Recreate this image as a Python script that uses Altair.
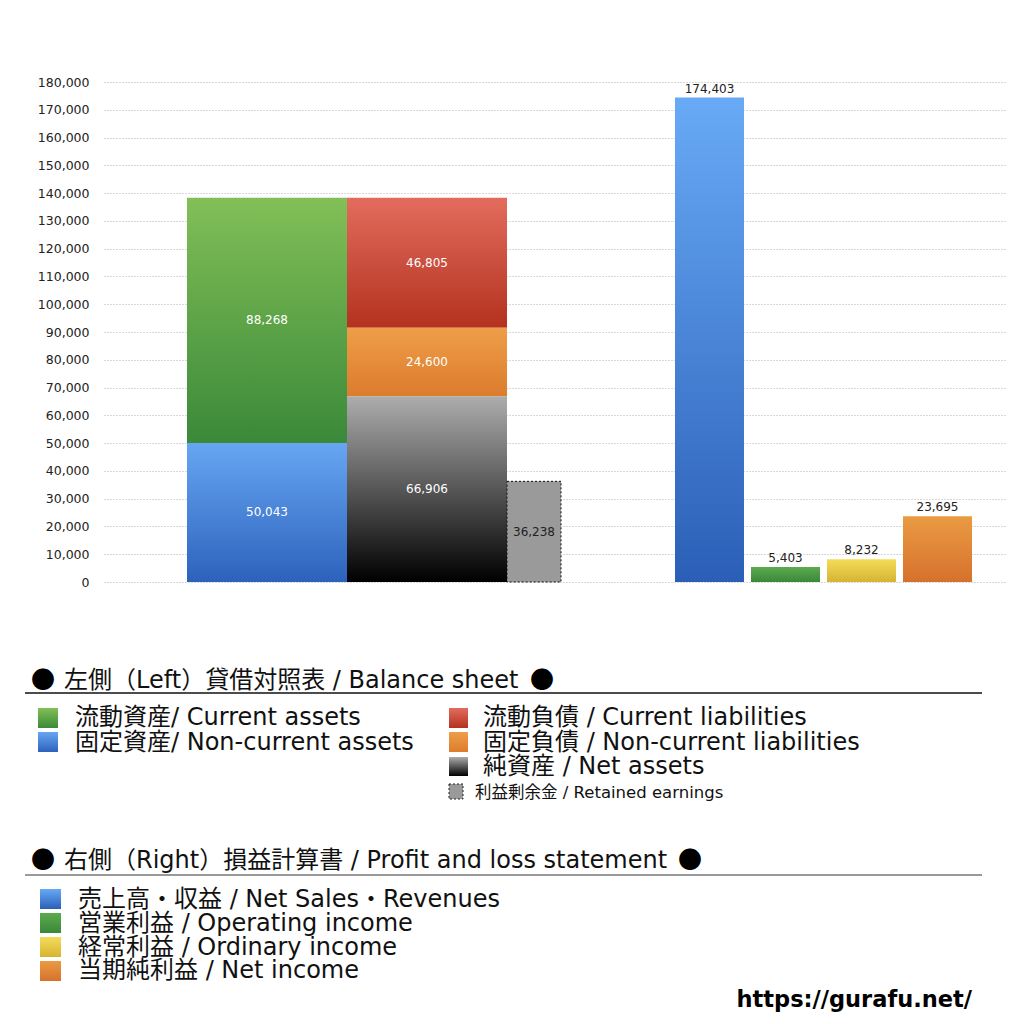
import altair as alt
import pandas as pd

# ---------------- data ----------------
bs_items = ["流動資産", "固定資産", "流動負債", "固定負債", "純資産", "利益剰余金"]
bs_values = [88268, 50043, 46805, 24600, 66906, 36238]
pl_items = ["売上高・収益", "営業利益", "経常利益", "当期純利益"]
pl_values = [174403, 5403, 8232, 23695]
y_ticks = list(range(0, 180001, 10000))

# ---------------- layout (x units of the hidden x scale) ----------------
W, H = 902, 500
FONT = "DejaVu Sans, Noto Sans CJK JP"
CJK = "Noto Sans CJK JP"
# column of each item, stacking bottom -> top
column_members = {
    "assets": ["固定資産", "流動資産"],
    "claims": ["純資産", "固定負債", "流動負債"],
    "retained": ["利益剰余金"],
    "pl0": ["売上高・収益"],
    "pl1": ["営業利益"],
    "pl2": ["経常利益"],
    "pl3": ["当期純利益"],
}
column_span = {
    "assets": (83, 243), "claims": (243, 403), "retained": (403, 457),
    "pl0": (571, 640), "pl1": (647, 716), "pl2": (723, 792), "pl3": (799, 868),
}

values = dict(zip(bs_items + pl_items, bs_values + pl_values))
rows = []
for col, members in column_members.items():
    base = 0
    for it in members:
        v = values[it]
        x0, x1 = column_span[col]
        rows.append(dict(item=it, value=v, y0=base, y1=base + v, ym=base + v / 2,
                         x0=x0, x1=x1, xm=(x0 + x1) / 2,
                         kind=("pl" if it in pl_items else ("ret" if it == "利益剰余金" else "bs"))))
        base += v
df = pd.DataFrame(rows)
one = pd.DataFrame({"k": [0]})


def grad(top, bottom):
    return alt.LinearGradient(
        gradient="linear", x1=0, y1=0, x2=0, y2=1,
        stops=[alt.GradientStop(color=top, offset=0), alt.GradientStop(color=bottom, offset=1)])


colors = {
    "流動資産": ("#82bf57", "#3a8939"),
    "固定資産": ("#67a6f3", "#2d62bc"),
    "流動負債": ("#e36c5e", "#b3321e"),
    "固定負債": ("#ee9e48", "#dc7c2e"),
    "純資産": ("#adadad", "#000000"),
    "売上高・収益": ("#68aaf6", "#2b5fb7"),
    "営業利益": ("#5dab4e", "#3a883a"),
    "経常利益": ("#f3dc5a", "#d6b432"),
    "当期純利益": ("#ea9b43", "#d6712d"),
}

xs = alt.Scale(domain=[0, W], nice=False, zero=False)
ys = alt.Scale(domain=[0, 180000], nice=False)
yaxis = alt.Axis(values=y_ticks, format=",d", title=None, ticks=False, domain=False,
                 labelFont=FONT, labelFontSize=12.5, labelColor="#222", labelPadding=15,
                 grid=True, gridDash=[1, 2], gridColor="#b0b0b0", gridWidth=1)


def enc_bar(ch):
    return ch.encode(x=alt.X("x0:Q", scale=xs, axis=None), x2="x1",
                     y=alt.Y("y0:Q", scale=ys, axis=yaxis), y2="y1")


layers = []
for it, (top, bot) in colors.items():
    layers.append(enc_bar(alt.Chart(df).transform_filter(alt.datum.item == it)
                          .mark_bar(color=grad(top, bot))))
layers.append(enc_bar(alt.Chart(df).transform_filter(alt.datum.item == "利益剰余金")
                      .mark_bar(fill="#9a9a9a", stroke="#111", strokeDash=[2, 2], strokeWidth=1)))

# value labels
layers.append(alt.Chart(df).transform_filter(alt.datum.kind == "bs").mark_text(
    font=FONT, fontSize=12, color="white", baseline="middle").encode(
    x=alt.X("xm:Q", scale=xs, axis=None), y=alt.Y("ym:Q", scale=ys, axis=yaxis),
    text=alt.Text("value:Q", format=",d")))
layers.append(alt.Chart(df).transform_filter(alt.datum.kind == "ret").mark_text(
    font=FONT, fontSize=12, color="#222", baseline="middle").encode(
    x=alt.X("xm:Q", scale=xs, axis=None), y=alt.Y("ym:Q", scale=ys, axis=yaxis),
    text=alt.Text("value:Q", format=",d")))
layers.append(alt.Chart(df).transform_filter(alt.datum.kind == "pl").mark_text(
    font=FONT, fontSize=12, color="#222", baseline="bottom", dy=-2).encode(
    x=alt.X("xm:Q", scale=xs, axis=None), y=alt.Y("y1:Q", scale=ys, axis=yaxis),
    text=alt.Text("value:Q", format=",d")))


# ---------------- legend block (drawn below the plot) ----------------
def txt(lines, x, y, size, weight="normal", align="left", color="#111", font=FONT):
    return alt.Chart(one).mark_text(
        text=lines, align=align, baseline="alphabetic", fontSize=size, font=font,
        fontWeight=weight, color=color).encode(x=alt.value(x), y=alt.value(y))


def square(x0, x1, y0, y1, **mk):
    return alt.Chart(one).mark_rect(**mk).encode(
        x=alt.value(x0), x2=alt.value(x1), y=alt.value(y0), y2=alt.value(y1))


def hline(x0, x1, y, color):
    return alt.Chart(one).mark_rule(color=color, strokeWidth=1.5).encode(
        x=alt.value(x0), x2=alt.value(x1), y=alt.value(y))


layers += [
    txt("●", -73, 606, 24, font=CJK, color="#000"),
    txt("左側（Left）貸借対照表 / Balance sheet", -40, 606, 24),
    txt("●", 426, 606, 24, font=CJK, color="#000"),
    hline(-79, 878, 611, "#111"),
    square(-66, -46, 626, 646, color=grad(*colors["流動資産"])),
    square(-66, -46, 650, 670, color=grad(*colors["固定資産"])),
    txt("流動資産/ Current assets", -29, 643, 24),
    txt("固定資産/ Non-current assets", -29, 668, 24),
    square(345, 364, 626, 646, color=grad(*colors["流動負債"])),
    square(345, 364, 650, 670, color=grad(*colors["固定負債"])),
    square(345, 364, 675, 694, color=grad(*colors["純資産"])),
    txt("流動負債 /  Current liabilities", 379, 643, 24),
    txt("固定負債 / Non-current liabilities", 379, 668, 24),
    txt("純資産 / Net assets", 379, 692, 24),
    square(345, 359, 702, 717, fill="#9a9a9a", stroke="#222", strokeDash=[2, 2], strokeWidth=1),
    txt("利益剰余金 / Retained earnings", 371, 716, 16.5),
    txt("●", -73, 786, 24, font=CJK, color="#000"),
    txt("右側（Right）損益計算書 / Profit and loss statement", -40, 786, 24),
    txt("●", 574, 786, 24, font=CJK, color="#000"),
    hline(-79, 878, 793, "#777"),
    square(-64, -43, 807, 827, color=grad(*colors["売上高・収益"])),
    square(-64, -43, 831, 851, color=grad(*colors["営業利益"])),
    square(-64, -43, 855, 875, color=grad(*colors["経常利益"])),
    square(-64, -43, 879, 899, color=grad(*colors["当期純利益"])),
    txt("売上高・収益 / Net Sales・Revenues", -26, 825, 24),
    txt("営業利益 / Operating income", -26, 849, 24),
    txt("経常利益 / Ordinary income", -26, 873, 24),
    txt("当期純利益 / Net income", -26, 896, 24),
    txt("https://gurafu.net/", 868, 925, 22.5, weight="bold", align="right", color="#000"),
]

chart = alt.layer(*layers).properties(
    width=W, height=H,
    autosize=alt.AutoSizeParams(type="none"),
    padding={"left": 96, "top": 74, "right": 10, "bottom": 432},
    background="white",
).configure_view(stroke=None)

chart.save("out.html", embed_options={"renderer": "svg", "actions": False})
